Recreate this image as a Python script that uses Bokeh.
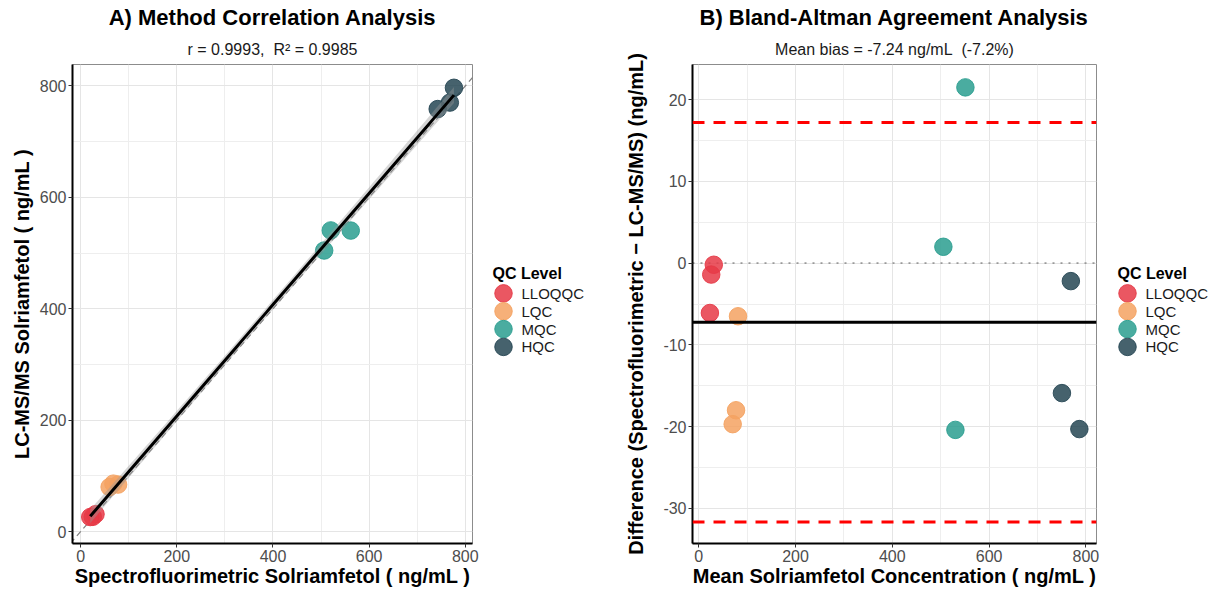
import numpy as np
from bokeh.plotting import figure
from bokeh.layouts import row
from bokeh.models import Range1d, FixedTicker, Title, Slope, Span, ColumnDataSource
from bokeh.core.properties import value
from bokeh.embed import file_html
from bokeh.resources import INLINE

FONT = "Liberation Sans"

# ---------------- data ----------------
qc_levels = ["LLOQQC", "LQC", "MQC", "HQC"]
qc_colors = ["#E63946", "#F4A261", "#2A9D8F", "#264653"]

sample_qc = ["LLOQQC", "LLOQQC", "LLOQQC",
             "LQC", "LQC", "LQC",
             "MQC", "MQC", "MQC",
             "HQC", "HQC", "HQC"]
spectro_ng_ml = [30.9, 25.0, 19.9,
                 77.8, 68.0, 60.2,
                 561.8, 506.5, 520.2,
                 767.9, 742.6, 776.4]
lcms_ng_ml = [31.1, 26.4, 26.0,
              84.3, 86.0, 79.9,
              540.3, 504.5, 540.6,
              770.1, 758.5, 796.7]

mean_bias = -7.24
bias_percent = -7.2
loa_upper = 17.20
loa_lower = -31.68
r_value = 0.9993
r_squared = 0.9985

conc_ticks = [0, 200, 400, 600, 800]
conc_minor_ticks = [100, 300, 500, 700]
diff_ticks = [-30, -20, -10, 0, 10, 20]
diff_minor_ticks = [-35, -25, -15, -5, 5, 15, 25]

# ---------------- derived values ----------------
sp = np.array(spectro_ng_ml)
lc = np.array(lcms_ng_ml)
ba_mean = (sp + lc) / 2.0
ba_diff = sp - lc
cmap = dict(zip(qc_levels, qc_colors))
pt_colors = [cmap[q] for q in sample_qc]

# ---------------- layout constants ----------------
TOP, BOTTOM = 63, 47
FRAME_H = 479
FIG_H = TOP + FRAME_H + BOTTOM


def base_fig(xr, yr, frame_w, left, right, title, subtitle):
    p = figure(frame_width=frame_w, frame_height=FRAME_H, x_range=xr, y_range=yr,
               min_border_left=left, min_border_right=right,
               min_border_top=TOP, min_border_bottom=BOTTOM,
               output_backend="svg", toolbar_location=None, title=None)
    p.background_fill_color = "white"
    p.border_fill_color = "white"
    p.outline_line_color = "#8c8c8c"
    p.outline_line_width = 1
    for ax in [p.xaxis[0], p.yaxis[0]]:
        ax.axis_line_color = "black"
        ax.axis_line_width = 2
        ax.major_tick_line_color = "#333333"
        ax.major_tick_line_width = 1
        ax.major_tick_out = 4
        ax.major_tick_in = 0
        ax.minor_tick_line_color = None
        ax.major_label_text_font = FONT
        ax.major_label_text_font_size = "16px"
        ax.major_label_text_color = "#4d4d4d"
        ax.major_label_standoff = 2
        ax.axis_label_text_font = FONT
        ax.axis_label_text_font_size = "20px"
        ax.axis_label_text_font_style = "bold"
        ax.axis_label_text_color = "black"
    p.grid.grid_line_color = "#e5e5e5"
    p.grid.grid_line_width = 1
    p.grid.minor_grid_line_color = "#eeeeee"
    p.grid.minor_grid_line_width = 1
    p.add_layout(Title(text=subtitle, align="center", text_font=FONT, text_font_size="16px",
                       text_font_style="normal", text_color="#1a1a1a", standoff=14), "above")
    p.add_layout(Title(text=title, align="center", text_font=FONT, text_font_size="22px",
                       text_font_style="bold", text_color="black", standoff=4), "above")
    return p


def legend_fig(width, x_title, x_glyph, x_label):
    lp = figure(width=width, height=FIG_H, x_range=Range1d(0, width), y_range=Range1d(FIG_H, 0),
                output_backend="svg", toolbar_location=None, title=None,
                x_axis_location=None, y_axis_location=None, min_border=0)
    lp.outline_line_color = None
    lp.grid.grid_line_color = None
    lp.background_fill_color = "white"
    lp.border_fill_color = "white"
    center = TOP + FRAME_H / 2.0
    item_y = [center - 20.5 + 22 * i for i in range(len(qc_levels))]
    lp.text(x=[x_title], y=[center - 45], text=["QC Level"], text_font=value(FONT),
            text_font_size="16px", text_font_style="bold", text_color="black",
            text_baseline="middle", text_align="left")
    lp.scatter(x=[x_glyph] * len(qc_levels), y=item_y, size=17.5, fill_color=qc_colors,
               line_color=qc_colors, fill_alpha=0.85, line_alpha=0.9)
    lp.text(x=[x_label] * len(qc_levels), y=item_y, text=qc_levels, text_font=value(FONT),
            text_font_size="15px", text_color="#1a1a1a",
            text_baseline="middle", text_align="left")
    return lp


# ---------------- Panel A: correlation ----------------
pA = base_fig(Range1d(-17, 815), Range1d(-21.5, 838.5), 400, 72, 10,
              "A) Method Correlation Analysis",
              f"r = {r_value:.4f},\u00a0 R\u00b2 = {r_squared:.4f}")
pA.xaxis.axis_label = "Spectrofluorimetric Solriamfetol ( ng/mL )"
pA.yaxis.axis_label = "LC-MS/MS Solriamfetol ( ng/mL )"
pA.xaxis.ticker = FixedTicker(ticks=conc_ticks, minor_ticks=conc_minor_ticks)
pA.yaxis.ticker = FixedTicker(ticks=conc_ticks, minor_ticks=conc_minor_ticks)
pA.xaxis.axis_label_standoff = 0
pA.yaxis.axis_label_standoff = 4

pA.add_layout(Slope(gradient=1, y_intercept=0, line_color="#808080", line_dash="6 4",
                    line_width=1.2, level="underlay"))

srcA = ColumnDataSource(dict(x=spectro_ng_ml, y=lcms_ng_ml, c=pt_colors, qc=sample_qc))
pA.scatter("x", "y", source=srcA, size=17.5, fill_color="c", line_color="c",
           fill_alpha=0.85, line_alpha=0.9)

# linear fit with 95% confidence band
slope, intercept = np.polyfit(sp, lc, 1)
n = len(sp)
resid = lc - (slope * sp + intercept)
s = np.sqrt(np.sum(resid ** 2) / (n - 2))
sxx = np.sum((sp - sp.mean()) ** 2)
xs = np.linspace(sp.min(), sp.max(), 100)
yfit = slope * xs + intercept
se = s * np.sqrt(1.0 / n + (xs - sp.mean()) ** 2 / sxx)
t_crit = 2.228
pA.varea(x=xs, y1=yfit - t_crit * se, y2=yfit + t_crit * se, fill_color="#999999", fill_alpha=0.4)
pA.line(xs, yfit, line_color="black", line_width=3)

# ---------------- Panel B: Bland-Altman ----------------
pB = base_fig(Range1d(-13, 822), Range1d(-34.3, 24.3), 404, 88, 8,
              "B) Bland-Altman Agreement Analysis",
              f"Mean bias = {mean_bias:.2f} ng/mL\u00a0 ({bias_percent:.1f}%)")
pB.xaxis.axis_label = "Mean Solriamfetol Concentration ( ng/mL )"
pB.yaxis.axis_label = "Difference (Spectrofluorimetric \u2212 LC-MS/MS) (ng/mL)"
pB.xaxis.ticker = FixedTicker(ticks=conc_ticks, minor_ticks=conc_minor_ticks)
pB.yaxis.ticker = FixedTicker(ticks=diff_ticks, minor_ticks=diff_minor_ticks)
pB.yaxis.major_label_overrides = {t: str(t) for t in diff_ticks}
pB.xaxis.axis_label_standoff = 0
pB.yaxis.axis_label_standoff = 13

pB.add_layout(Span(location=0, dimension="width", line_color="#999999", line_dash="2 6",
                   line_width=1.6, level="underlay"))
srcB = ColumnDataSource(dict(x=ba_mean, y=ba_diff, c=pt_colors, qc=sample_qc))
pB.scatter("x", "y", source=srcB, size=17.5, fill_color="c", line_color="c",
           fill_alpha=0.85, line_alpha=0.9)
pB.add_layout(Span(location=mean_bias, dimension="width", line_color="black", line_width=3))
for loa in (loa_upper, loa_lower):
    pB.add_layout(Span(location=loa, dimension="width", line_color="#FF0000",
                       line_dash="12 9", line_width=3))

# ---------------- legends ----------------
legA = legend_fig(122, 10, 21, 39)
legB = legend_fig(105, 13, 23, 41)

layout = row(pA, legA, pB, legB)
open("out.html", "w").write(file_html(layout, INLINE))
